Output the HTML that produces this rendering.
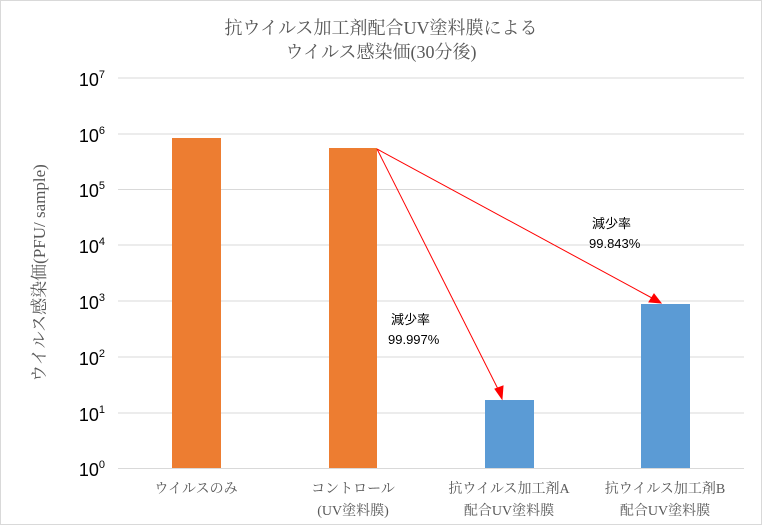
<!DOCTYPE html>
<html><head><meta charset="utf-8"><style>
body{margin:0;background:#fff}
svg{display:block}
text{font-family:"Liberation Serif","Noto Serif CJK SC","Noto Sans CJK JP",serif}
</style></head><body>
<svg width="762" height="525" viewBox="0 0 762 525">
<rect x="0.5" y="0.5" width="761" height="524" fill="#fff" stroke="#d9d9d9"/>
<text x="381" y="34" font-size="18" fill="#595959" text-anchor="middle">抗ウイルス加工剤配合UV塗料膜による</text>
<text x="381" y="58" font-size="18" fill="#595959" text-anchor="middle">ウイルス感染価(30分後)</text>
<g stroke="#d9d9d9" stroke-width="1">
<line x1="118" x2="744" y1="78" y2="78"/>
<line x1="118" x2="744" y1="134" y2="134"/>
<line x1="118" x2="744" y1="189.5" y2="189.5"/>
<line x1="118" x2="744" y1="245" y2="245"/>
<line x1="118" x2="744" y1="301" y2="301"/>
<line x1="118" x2="744" y1="357" y2="357"/>
<line x1="118" x2="744" y1="413" y2="413"/>
<line x1="118" x2="744" y1="468.5" y2="468.5"/>
</g>
<g font-family="Liberation Sans" font-size="18" fill="#000" text-anchor="end">
<text x="105" y="86" style="font-family:'Liberation Sans',sans-serif">10<tspan font-size="11" dy="-8">7</tspan></text>
<text x="105" y="142" style="font-family:'Liberation Sans',sans-serif">10<tspan font-size="11" dy="-8">6</tspan></text>
<text x="105" y="197" style="font-family:'Liberation Sans',sans-serif">10<tspan font-size="11" dy="-8">5</tspan></text>
<text x="105" y="253" style="font-family:'Liberation Sans',sans-serif">10<tspan font-size="11" dy="-8">4</tspan></text>
<text x="105" y="309" style="font-family:'Liberation Sans',sans-serif">10<tspan font-size="11" dy="-8">3</tspan></text>
<text x="105" y="365" style="font-family:'Liberation Sans',sans-serif">10<tspan font-size="11" dy="-8">2</tspan></text>
<text x="105" y="421" style="font-family:'Liberation Sans',sans-serif">10<tspan font-size="11" dy="-8">1</tspan></text>
<text x="105" y="476" style="font-family:'Liberation Sans',sans-serif">10<tspan font-size="11" dy="-8">0</tspan></text>
</g>
<text transform="translate(45,273) rotate(-90)" font-size="17" fill="#595959" text-anchor="middle">ウイルス感染価(PFU/ sample)</text>
<rect x="172" y="138" width="49" height="330" fill="#ed7d31"/>
<rect x="329" y="148" width="48" height="320" fill="#ed7d31"/>
<rect x="485" y="400" width="49" height="68" fill="#5b9bd5"/>
<rect x="641" y="304" width="49" height="164" fill="#5b9bd5"/>
<g stroke="#ff0000" stroke-width="1" fill="#ff0000">
<line x1="377" y1="149" x2="499" y2="391"/>
<polygon points="502,399 495,389 503,386"/>
<line x1="377" y1="149" x2="652" y2="298"/>
<polygon points="661,303 649,302 654,294"/>
</g>
<g font-size="13" fill="#000" style="font-family:'Liberation Sans','Noto Sans CJK JP',sans-serif">
<text x="391" y="324" style="font-family:'Liberation Sans','Noto Sans CJK JP',sans-serif">減少率</text>
<text x="388" y="344" style="font-family:'Liberation Sans','Noto Sans CJK JP',sans-serif">99.997%</text>
<text x="592" y="228" style="font-family:'Liberation Sans','Noto Sans CJK JP',sans-serif">減少率</text>
<text x="589" y="248" style="font-family:'Liberation Sans','Noto Sans CJK JP',sans-serif">99.843%</text>
</g>
<g font-size="14" fill="#595959" text-anchor="middle">
<text x="196" y="493">ウイルスのみ</text>
<text x="353" y="493">コントロール</text>
<text x="353" y="515">(UV塗料膜)</text>
<text x="509" y="493">抗ウイルス加工剤A</text>
<text x="509" y="515">配合UV塗料膜</text>
<text x="665" y="493">抗ウイルス加工剤B</text>
<text x="665" y="515">配合UV塗料膜</text>
</g>
</svg>
</body></html>
